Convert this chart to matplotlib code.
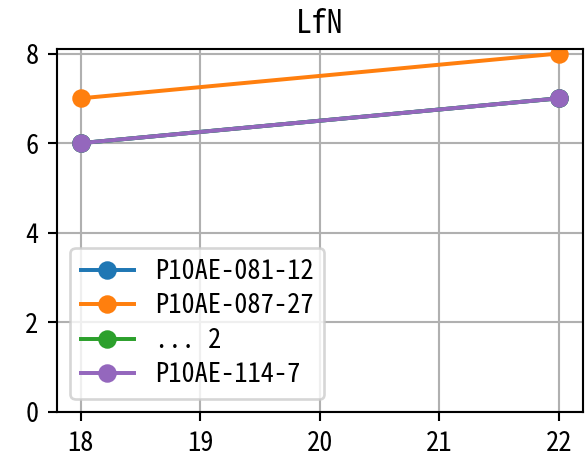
import matplotlib
matplotlib.use("Agg")
import matplotlib.pyplot as plt

plt.rcParams['font.family'] = ['Noto Sans Mono CJK JP', 'DejaVu Sans Mono']

# data
x_vals = [18, 22]
labels = ['P10AE-081-12', 'P10AE-087-27', '... 2', 'P10AE-114-7']
series = [
    [6, 7],
    [7, 8],
    [6, 7],
    [6, 7],
]
colors = ['C0', 'C1', 'C2', 'C4']

fig = plt.figure(figsize=(588 / 190, 456 / 190), dpi=190)
ax = fig.add_axes([0.097, 0.0965, 0.894, 0.796])
for vals, lbl, c in zip(series, labels, colors):
    ax.plot(x_vals, vals, marker='o', label=lbl, color=c)
ax.set_ylim(bottom=0)
ax.set_xticks([18, 19, 20, 21, 22])
ax.grid(True)
ax.set_title('LfN')
ax.legend(loc='lower left', labelspacing=0.28)
fig.savefig('out.png', dpi=190)
